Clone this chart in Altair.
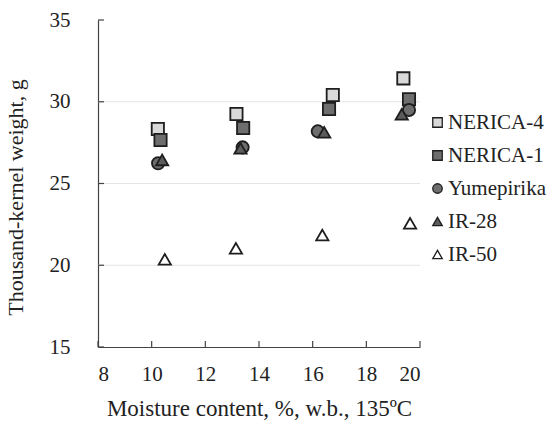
import altair as alt
import pandas as pd

varieties = ["NERICA-4", "NERICA-1", "Yumepirika", "IR-28", "IR-50"]
moisture = {
    "NERICA-4": [10.23, 13.16, 16.75, 19.38],
    "NERICA-1": [10.33, 13.41, 16.61, 19.59],
    "Yumepirika": [10.24, 13.39, 16.19, 19.59],
    "IR-28": [10.39, 13.31, 16.43, 19.32],
    "IR-50": [10.49, 13.14, 16.36, 19.63],
}
weight = {
    "NERICA-4": [28.33, 29.25, 30.41, 31.43],
    "NERICA-1": [27.66, 28.39, 29.56, 30.15],
    "Yumepirika": [26.24, 27.21, 28.19, 29.50],
    "IR-28": [26.44, 27.15, 28.13, 29.23],
    "IR-50": [20.36, 21.04, 21.85, 22.57],
}
shapes = ["square", "square", "circle", "triangle-up", "triangle-up"]
fills = ["#d9d9d9", "#6e6e6e", "#6e6e6e", "#5c5c5c", "#ffffff"]

x_ticks = [8, 10, 12, 14, 16, 18, 20]
y_ticks = [15, 20, 25, 30, 35]
y_grid = [20, 25, 30]

rows = []
for v in varieties:
    for mx, wy in zip(moisture[v], weight[v]):
        rows.append({"variety": v, "moisture": mx, "weight": wy})
df = pd.DataFrame(rows)

W, H = 322, 327
FONT = "Liberation Serif, 'Times New Roman', Times, serif"
XT = "Moisture content, %, w.b., 135ºC"
YT = "Thousand-kernel weight, g"

xscale = alt.Scale(domain=[8, 20], nice=False, zero=False)
yscale = alt.Scale(domain=[15, 35], nice=False, zero=False)
xaxis = alt.Axis(values=x_ticks, ticks=False, grid=False, labelPadding=16,
                 titlePadding=13, title=XT, titleFontSize=23)
yaxis = alt.Axis(values=y_ticks, ticks=False, grid=False, labelPadding=28,
                 titlePadding=22, title=YT, titleY=177, titleFontSize=22)

grid = alt.Chart(pd.DataFrame({"weight": y_grid})).mark_rule(
    color="#e4e4e4", strokeWidth=1.2
).encode(y=alt.Y("weight:Q", scale=yscale, axis=yaxis, title=YT))

points = alt.Chart(df).mark_point(
    filled=True, stroke="#1e1e1e", strokeWidth=1.8, size=150, opacity=1
).encode(
    x=alt.X("moisture:Q", scale=xscale, axis=xaxis, title=XT),
    y=alt.Y("weight:Q", scale=yscale, axis=yaxis, title=YT),
    shape=alt.Shape("variety:N", scale=alt.Scale(domain=varieties, range=shapes),
                    title=None),
    fill=alt.Fill("variety:N", scale=alt.Scale(domain=varieties, range=fills),
                  title=None,
                  legend=alt.Legend(orient="none", legendX=329, legendY=92,
                                    padding=0, rowPadding=11, labelOffset=0,
                                    symbolSize=90, symbolStrokeColor="#1e1e1e",
                                    symbolStrokeWidth=1.3, labelFontSize=21,
                                    labelFont=FONT, labelColor="#222")),
)

yt = alt.Chart(pd.DataFrame({"weight": y_ticks})).mark_rule(
    color="#444", strokeWidth=1.2
).encode(y=alt.Y("weight:Q", scale=yscale, axis=yaxis, title=YT),
         x=alt.value(0), x2=alt.value(6))

xt = alt.Chart(pd.DataFrame({"moisture": x_ticks})).mark_rule(
    color="#444", strokeWidth=1.2
).encode(x=alt.X("moisture:Q", scale=xscale, axis=xaxis, title=XT),
         y=alt.value(H - 6), y2=alt.value(H))

chart = alt.layer(grid, points, yt, xt).properties(
    width=W, height=H,
    autosize=alt.AutoSizeParams(type="none"),
    padding={"left": 98, "top": 20, "right": 129, "bottom": 74},
    background="white",
).configure_view(stroke=None).configure_axis(
    domainColor="#444", domainWidth=1.2,
    labelFont=FONT, labelFontSize=21, labelColor="#222",
    titleFont=FONT, titleFontWeight="normal", titleColor="#222",
).configure_legend(labelLimit=0)

chart.save("out.html", embed_options={"renderer": "svg", "actions": False})
